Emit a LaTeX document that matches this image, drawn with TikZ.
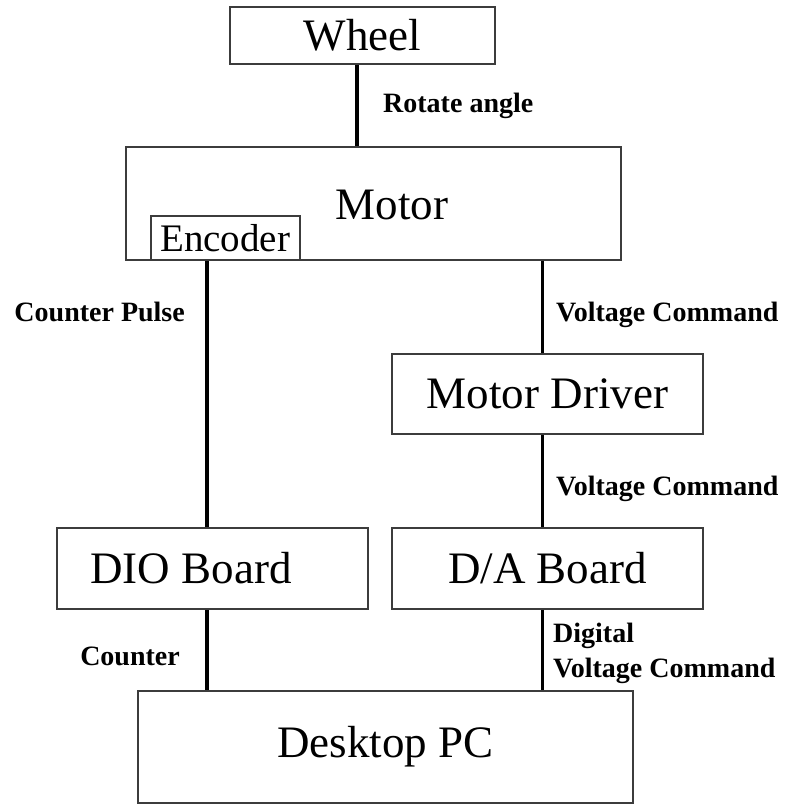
\documentclass[tikz,border=0pt]{standalone}
\usepackage{fontspec}
\setmainfont{Liberation Serif}
\usepackage{tikz}
\usetikzlibrary{positioning}
\definecolor{boxgray}{RGB}{60,60,60}

\begin{document}
\begin{tikzpicture}[
    x=1pt, y=-1pt,
    big/.style={inner sep=0pt, font=\fontsize{45}{50}\selectfont},
    box/.style={big, draw=boxgray, line width=1.6pt},
    tag/.style={inner sep=0pt, font=\fontsize{28}{30}\selectfont\bfseries},
    wire/.style={line width=3pt},
    heavy/.style={line width=4.5pt}
]
    \useasboundingbox (0,0) rectangle (794,805);

    % Nodes
    \node[box, minimum width=265pt, minimum height=57pt] (wheel) at (362.5,35.5) {Wheel};
    \node[box, minimum width=495pt, minimum height=113pt] (motor) at (373.5,203.5) {};
    \node[big] (motortxt) at (392,205) {Motor};
    \node[box, font=\fontsize{39}{42}\selectfont, minimum width=149pt, minimum height=44pt,
          anchor=south west] (encoder) at (motor.south west -| 150,0) {Encoder};
    \node[box, minimum width=311pt, minimum height=80pt] (driver) at (547.5,394) {Motor Driver};
    \node[box, minimum width=311pt, minimum height=81pt] (dab) at (547.5,568.5) {D/A Board};
    \node[box, minimum width=311pt, minimum height=81pt] (dio) at (212.5,568.5) {};
    \node[big] (diotxt) at (191,568.5) {DIO Board};
    \node[box, minimum width=495pt, minimum height=112pt] (pc) at (385.5,747) {Desktop PC};

    % Bus positions
    \coordinate (wbus) at (357,0);
    \coordinate (lbus) at (207,0);
    \coordinate (rbus) at (542,0);

    % Lines
    \draw[heavy] (wheel.south -| wbus) -- (motor.north -| wbus);
    \draw[heavy] (encoder.south -| lbus) -- (dio.north -| lbus);
    \draw[heavy] (dio.south -| lbus) -- (pc.north -| lbus);
    \draw[wire] (motor.south -| rbus) -- (driver.north -| rbus);
    \draw[wire] (driver.south -| rbus) -- (dab.north -| rbus);
    \draw[wire] (dab.south -| rbus) -- (pc.north -| rbus);

    % Labels
    \node[tag, anchor=base west] (rot) at (383,113) {Rotate angle};
    \node[tag, anchor=base east] (pulse) at (185,321) {Counter Pulse};
    \node[tag, anchor=base west] (vc1) at (556,321) {Voltage Command};
    \node[tag, anchor=base west] (vc2) at (556,495) {Voltage Command};
    \node[tag, anchor=base east] (cnt) at (180,665) {Counter};
    \node[tag, anchor=base west] (dig) at (553,642) {Digital};
    \node[tag, anchor=base west] (vc3) at (553,677) {Voltage Command};
\end{tikzpicture}
\end{document}
